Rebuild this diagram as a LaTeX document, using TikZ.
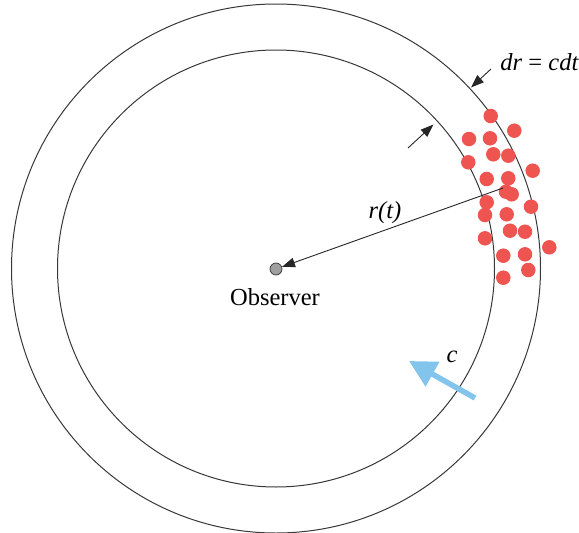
\documentclass[tikz,border=0pt]{standalone}
\usepackage{fontspec}
\setmainfont{Liberation Serif}
\usetikzlibrary{arrows.meta}
\definecolor{dotred}{RGB}{238,84,80}
\definecolor{lightblue}{RGB}{130,196,236}
\definecolor{linegray}{RGB}{55,55,55}
\begin{document}
\begin{tikzpicture}[x=1pt,y=-1pt,
  ring/.style={draw=linegray,line width=1pt},
  particle/.style={circle,fill=dotred,inner sep=0pt,minimum size=14.5pt},
  pointer/.style={draw=black!85,line width=0.9pt,-{Triangle[length=13pt,width=9.5pt]}},
  lbl/.style={font=\fontsize{24.5}{28}\selectfont,inner sep=0pt}]
\useasboundingbox (0,0) rectangle (579,533);
\coordinate (O) at (276,268.5);
\draw[ring] (O) circle[radius=264.5];
\draw[ring] (O) circle[radius=218.5];
% particles
\foreach \px/\py [count=\i] in {490.7/116,514.3/130.7,469/139,490/138.3,493.3/154.3,508.3/155.7,468.3/162.3,532.7/170.7,486.7/179,508.3/178.3,506/191.7,511.7/194.3,486.7/202.3,531/206.7,485/215,506.7/214.3,510/230.7,525/231.7,485/238.3,549.3/247.3,503.3/255.7,525/254.3,528.3/270,503.3/277.7}
  \node[particle] (p\i) at (\px,\py) {};
% observer
\node[circle,fill=gray!75,draw=black!80,line width=0.7pt,inner sep=0pt,minimum size=12pt] (obs) at (276,269) {};
\node[lbl] (obslbl) at (275,297) {Observer};
% radius arrow
\coordinate (rstart) at (503,188);
\draw[pointer] (rstart) -- (obs);
\node[lbl] (rlbl) at (385,213) {\textit{r(t)}};
% dr arrows
\coordinate (a1s) at (491,69);
\coordinate (a1e) at (471,87.5);
\draw[pointer] (a1s) -- (a1e);
\coordinate (a2s) at (408,148);
\coordinate (a2e) at (433.5,124.5);
\draw[pointer] (a2s) -- (a2e);
\node[lbl,anchor=east] (drlbl) at (579,62) {\textit{dr} = \textit{cdt}};
% light arrow
\coordinate (cs) at (475,398);
\coordinate (ce) at (409,361);
\draw[draw=lightblue,line width=5.5pt,-{Triangle[length=27pt,width=27pt]}] (cs) -- (ce);
\node[lbl] (clbl) at (452,357) {\textit{c}};
\end{tikzpicture}
\end{document}
